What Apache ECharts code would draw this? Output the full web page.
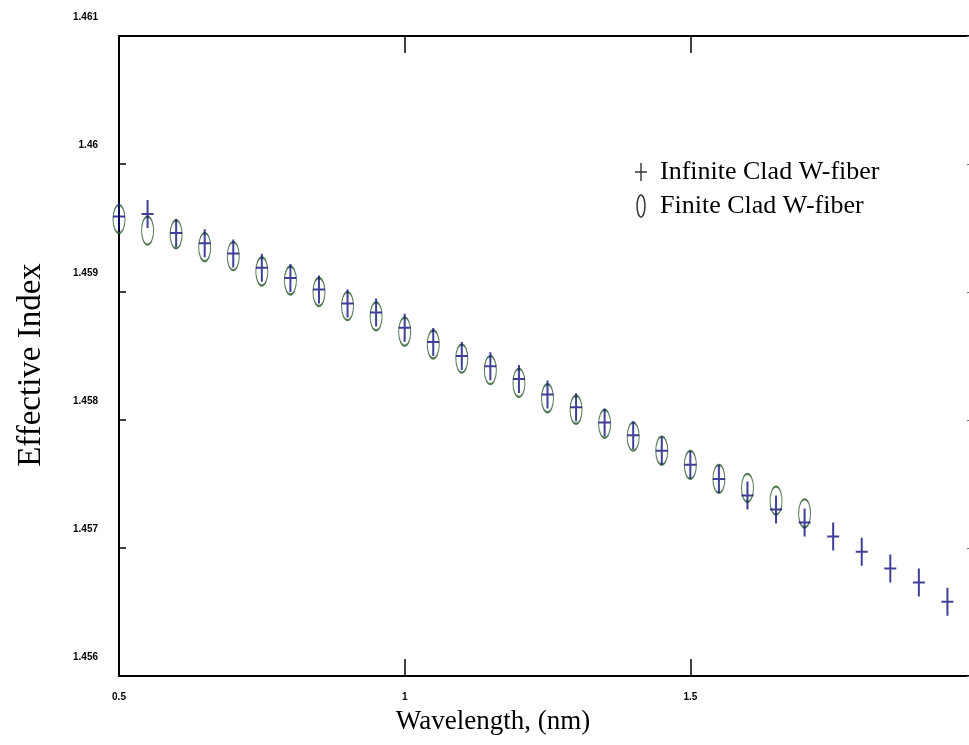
<!DOCTYPE html>
<html>
<head>
<meta charset="utf-8">
<script src="https://cdn.jsdelivr.net/npm/echarts@6/dist/echarts.min.js"></script>
<style>
  html, body { margin: 0; padding: 0; background: #fff; }
  #main { width: 969px; height: 745px; }
</style>
</head>
<body>
<div id="main"></div>
<script>
// wavelength samples (nm), every 0.05
var wavelengthInf = [0.5, 0.55, 0.6, 0.65, 0.7, 0.75, 0.8, 0.85, 0.9, 0.95,
    1.0, 1.05, 1.1, 1.15, 1.2, 1.25, 1.3, 1.35, 1.4, 1.45,
    1.5, 1.55, 1.6, 1.65, 1.7, 1.75, 1.8, 1.85, 1.9, 1.95];
var indexInf = [1.45959, 1.45961, 1.45946, 1.45938, 1.45930, 1.45919, 1.45911, 1.45902, 1.45891, 1.45884,
    1.45872, 1.45861, 1.45850, 1.45842, 1.45832, 1.45820, 1.45810, 1.45798, 1.45788, 1.45776,
    1.45765, 1.45754, 1.45741, 1.45730, 1.45720, 1.45709, 1.45697, 1.45684, 1.45673, 1.45658];

var wavelengthFin = [0.5, 0.55, 0.6, 0.65, 0.7, 0.75, 0.8, 0.85, 0.9, 0.95,
    1.0, 1.05, 1.1, 1.15, 1.2, 1.25, 1.3, 1.35, 1.4, 1.45,
    1.5, 1.55, 1.6, 1.65, 1.7];
var indexFin = [1.45957, 1.45948, 1.45945, 1.45935, 1.45928, 1.45916, 1.45909, 1.45900, 1.45889, 1.45881,
    1.45869, 1.45859, 1.45848, 1.45839, 1.45829, 1.45817, 1.45808, 1.45797, 1.45787, 1.45776,
    1.45765, 1.45754, 1.45747, 1.45737, 1.45727];

var seriesNames = ['Infinite Clad W-fiber', 'Finite Clad W-fiber'];

function pairs(xs, ys) {
    var out = [];
    for (var i = 0; i < xs.length; i++) out.push([xs[i], ys[i]]);
    return out;
}

// filled plus (12x28) so both bars render equally
var plusPath = 'path://M5,0h2v13h5v2h-5v13h-2v-13h-5v-2h5z';
var plusIcon = 'path://M5.3,0h1.4v8.3h5.3v1.4h-5.3v8.3h-1.4v-8.3h-5.3v-1.4h5.3z';
var ellipsePath = 'path://M5,0C7.76,0 10,6.27 10,14C10,21.73 7.76,28 5,28C2.24,28 0,21.73 0,14C0,6.27 2.24,0 5,0Z';
var serif = 'Liberation Serif';

var myChart = echarts.init(document.getElementById('main'));
var option = {
    backgroundColor: '#fff',
    animation: false,
    grid: { left: 119, top: 36, bottom: 69, right: -7, outerBoundsMode: 'none' },
    legend: {
        orient: 'vertical',
        left: 630,
        top: 154,
        itemWidth: 12,
        itemHeight: 22,
        itemGap: 8,
        textStyle: { fontFamily: serif, fontSize: 26, color: '#000', padding: [0, 0, 0, 8] },
        data: [
            { name: seriesNames[0], icon: plusIcon,
              itemStyle: { color: '#000', borderWidth: 0 } },
            { name: seriesNames[1], icon: ellipsePath,
              itemStyle: { color: 'rgba(0,0,0,0)', borderColor: '#000', borderWidth: 1.5 } }
        ]
    },
    xAxis: [{
        type: 'value',
        min: 0.5,
        max: 2,
        interval: 0.5,
        name: 'Wavelength, (nm)',
        nameLocation: 'middle',
        nameGap: 32,
        nameTextStyle: { fontFamily: serif, fontSize: 27, color: '#000', padding: [0, 109, 0, 0] },
        splitLine: { show: false },
        axisLine: { lineStyle: { color: '#000', width: 2 } },
        axisTick: { inside: true, length: 17, lineStyle: { color: '#000', width: 1.5 } },
        axisLabel: { margin: 16, fontSize: 10, fontWeight: 'bold', color: '#000',
            formatter: function (v) { return v === 2 ? '' : String(v); } }
    }, {
        type: 'value',
        position: 'top',
        min: 0.5,
        max: 2,
        interval: 0.5,
        splitLine: { show: false },
        axisLine: { lineStyle: { color: '#000', width: 2 } },
        axisTick: { inside: true, length: 17, lineStyle: { color: '#000', width: 1.5 } },
        axisLabel: { show: false }
    }],
    yAxis: [{
        type: 'value',
        min: 1.456,
        max: 1.461,
        interval: 0.001,
        name: 'Effective Index',
        nameLocation: 'middle',
        nameGap: 71,
        nameTextStyle: { fontFamily: serif, fontSize: 33, color: '#000', padding: [0, 18, 0, 0] },
        splitLine: { show: false },
        axisLine: { lineStyle: { color: '#000', width: 2 } },
        axisTick: { inside: true, length: 7, lineStyle: { color: '#000', width: 1.5 } },
        axisLabel: { margin: 21, fontSize: 10, fontWeight: 'bold', color: '#000',
            verticalAlign: 'bottom', padding: [0, 0, 14, 0],
            formatter: function (v) { return String(+v.toFixed(3)); } }
    }, {
        type: 'value',
        position: 'right',
        min: 1.456,
        max: 1.461,
        interval: 0.001,
        splitLine: { show: false },
        axisLine: { lineStyle: { color: '#000', width: 2 } },
        axisTick: { inside: true, length: 9, lineStyle: { color: '#666', width: 1 } },
        axisLabel: { show: false }
    }],
    series: [{
        name: seriesNames[1],
        type: 'scatter',
        data: pairs(wavelengthFin, indexFin),
        symbol: ellipsePath,
        symbolSize: [12, 28],
        itemStyle: { color: 'rgba(0,0,0,0)', borderColor: '#285a2c', borderWidth: 1.5 },
        z: 2
    }, {
        name: seriesNames[0],
        type: 'scatter',
        data: pairs(wavelengthInf, indexInf),
        symbol: plusPath,
        symbolSize: [12, 28],
        itemStyle: { color: '#10107f', borderWidth: 0 },
        z: 3
    }]
};
myChart.setOption(option);
</script>
</body>
</html>
